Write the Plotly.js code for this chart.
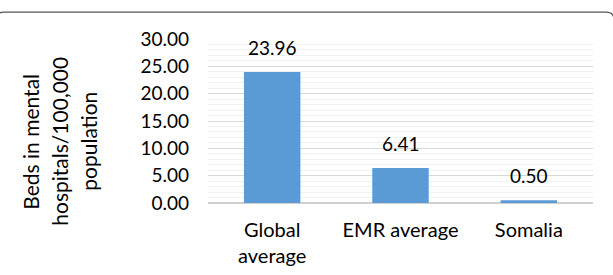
<!DOCTYPE html>
<html>
<head>
<meta charset="utf-8">
<script src="https://cdn.plot.ly/plotly-3.0.1.min.js"></script>
<style>html,body{margin:0;padding:0;background:#fff;}#chart{width:613px;height:275px;}</style>
</head>
<body>
<div id="chart"></div>
<script>
const categories = ['Global average', 'EMR average', 'Somalia'];
const tickLabels = ['Global<br>average', 'EMR average', 'Somalia'];
const beds = [23.96, 6.41, 0.50];
const yTickVals = [0, 5, 10, 15, 20, 25, 30];
const yTitleLines = ['Beds in mental', 'hospitals/100,000', 'population'];

const W = 613, H = 275;
const L = 208, R = 593, T = 39, B = 203.5;
const FONT = 'Lato, "Noto Sans", sans-serif';
const px2x = p => (p - L) / (R - L);
const py2y = p => (B - p) / (B - T);

const annotations = categories.map((c, i) => ({
  x: c, y: beds[i], xref: 'x', yref: 'y',
  text: beds[i].toFixed(2), showarrow: false,
  yanchor: 'bottom', yshift: 11,
  font: {family: FONT, size: 19, color: '#000'}
}));
const titleX = [31, 60, 89];
yTitleLines.forEach((t, i) => annotations.push({
  x: px2x(titleX[i]), y: py2y(142), xref: 'paper', yref: 'paper',
  text: t, showarrow: false, textangle: -90,
  xanchor: 'center', yanchor: 'middle',
  font: {family: FONT, size: 21, color: '#000'}
}));

const border = `M ${px2x(-4)},${py2y(40)} L ${px2x(-4)},${py2y(20)} Q ${px2x(-4)},${py2y(12)} ${px2x(4)},${py2y(12)} ` +
  `L ${px2x(606)},${py2y(12)} Q ${px2x(614)},${py2y(12)} ${px2x(614)},${py2y(20)} L ${px2x(614)},${py2y(40)}`;

Plotly.newPlot('chart', [{
  type: 'bar', x: categories, y: beds,
  marker: {color: '#5B9BD5'},
  hoverinfo: 'none'
}], {
  width: W, height: H,
  margin: {l: L, r: W - R, t: T, b: H - B, pad: 0},
  paper_bgcolor: '#fff', plot_bgcolor: '#fff',
  bargap: 0.56,
  showlegend: false,
  font: {family: FONT, color: '#000'},
  xaxis: {
    type: 'category', tickvals: categories, ticktext: tickLabels,
    showgrid: false, zeroline: false, ticks: '',
    showline: false,
    tickfont: {family: FONT, size: 20, color: '#000'},
    ticklabelstandoff: 13
  },
  yaxis: {
    range: [0, 30], tickvals: yTickVals,
    ticktext: yTickVals.map(v => v.toFixed(2)),
    showgrid: true, gridcolor: '#d9d9d9', gridwidth: 1,
    minor: {dtick: 1, showgrid: true, gridcolor: '#f1f1f1', gridwidth: 1},
    zeroline: true, zerolinecolor: '#d0d0d0', zerolinewidth: 2,
    ticks: '', showline: false,
    tickfont: {family: FONT, size: 19, color: '#000'},
    ticklabelstandoff: 18
  },
  annotations: annotations,
  shapes: [{type: 'path', xref: 'paper', yref: 'paper', path: border,
    line: {color: '#555', width: 1.2}}]
}, {displayModeBar: false, staticPlot: true});
</script>
</body>
</html>
